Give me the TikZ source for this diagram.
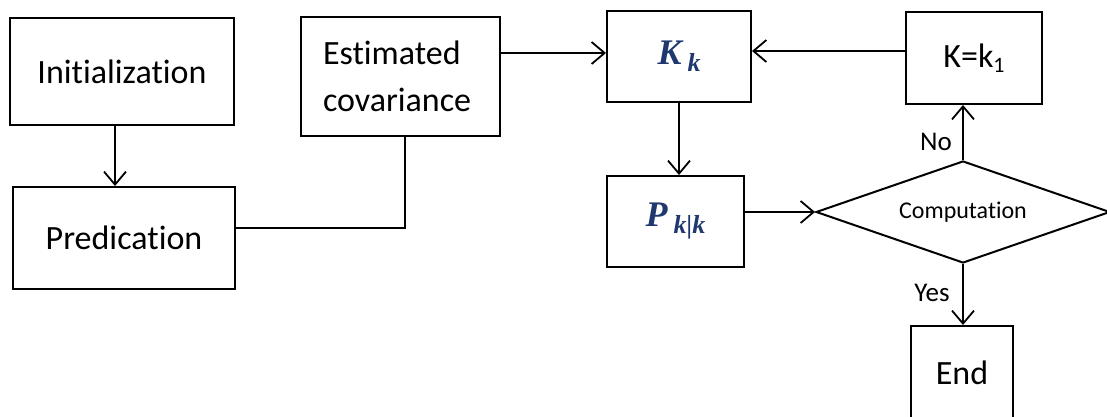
\documentclass[tikz,border=0pt]{standalone}
\usepackage{fontspec}
\setmainfont{Carlito}[RawFeature={-liga,-dlig,-calt}]
\newfontfamily\mathlike{Liberation Serif}
\usetikzlibrary{arrows.meta,shapes.geometric}
\definecolor{navy}{RGB}{31,56,110}
\newcommand{\bigtext}{\fontsize{34}{47}\selectfont}
\newcommand{\symK}[2]{{\color{navy}\mathlike\bfseries\itshape\fontsize{36}{36}\selectfont #1\,\raisebox{-7pt}{\fontsize{26}{26}\selectfont #2}}}
\begin{document}
\begin{tikzpicture}[x=1pt,y=-1pt,
  box/.style={draw,line width=2pt,inner sep=0pt,font=\bigtext},
  arr/.style={line width=1.8pt,-{Straight Barb[length=13pt,width=22pt,line width=1.8pt]}},
  conn/.style={line width=1.8pt},
  lbl/.style={inner sep=0pt,font=\fontsize{27}{27}\selectfont}]
\useasboundingbox (0,0) rectangle (1107,417);

% process blocks
\node[box,minimum width=224pt,minimum height=107pt] (init) at (122,71.5) {Initialization};
\node[box,minimum width=222pt,minimum height=102pt] (pred) at (124,238) {Predication};
\node[box,minimum width=199pt,minimum height=119pt,text width=155pt,align=left] (est) at (400.5,76.5) {Estimated\\covariance};
\node[box,minimum width=144pt,minimum height=91pt] (kk) at (679,56.5) {\symK{K}{k}};
\node[box,minimum width=137pt,minimum height=91pt] (pk) at (675.5,221.5) {\symK{P}{k\textbar k}};
\node[box,minimum width=136pt,minimum height=92pt] (kone) at (974,58) {K=k\raisebox{-5pt}{\fontsize{22}{22}\selectfont 1}};
\node[box,diamond,aspect=2.88,minimum width=294pt,minimum height=102pt,font=\fontsize{24}{24}\selectfont] (comp) at (963,212) {Computation};
\node[box,minimum width=102pt,minimum height=94pt] (end) at (962,373) {End};

% connectors
\draw[arr] ([xshift=-7pt]init.south) -- ([xshift=-7pt]init.south |- pred.north);
\draw[conn] ([yshift=10pt]pred.east) -| ([xshift=4.5pt]est.south);
\draw[arr] ([yshift=3.5pt]est.east |- kk.west) -- ([yshift=3.5pt]kk.west);
\draw[arr] ([yshift=7pt]kone.west) -- ([yshift=7pt]kone.west -| kk.east);
\draw[arr] (kk.south) -- (kk.south |- pk.north);
\draw[arr] (pk.east |- comp.west) -- (comp.west);
\draw[arr] (comp.north) -- (comp.north |- kone.south);
\draw[arr] (comp.south) -- (comp.south |- end.north);

% branch labels
\node[lbl] (no) at (936,142) {No};
\node[lbl] (yes) at (932,293) {Yes};
\end{tikzpicture}
\end{document}
